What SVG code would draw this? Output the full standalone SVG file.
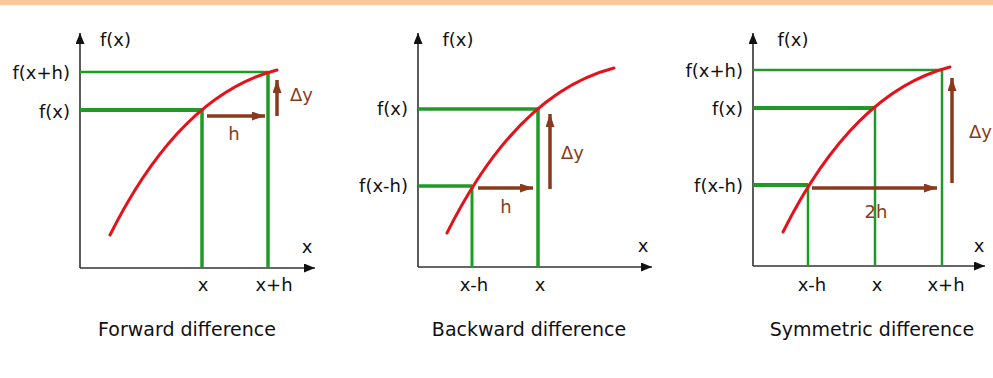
<svg xmlns="http://www.w3.org/2000/svg" width="993" height="378" viewBox="0 0 993 378">
<style>
text{font-family:"DejaVu Sans","Liberation Sans",sans-serif;font-size:18px;fill:#111}
.r{text-anchor:end}
.c{text-anchor:middle}
.cap{font-size:19px;text-anchor:middle}
.br{fill:#8a3a1c}
.ax{stroke:#333;stroke-width:1.6;fill:none}
.g{stroke:#1f9a26;fill:none}
.cv{stroke:#e5121c;stroke-width:3;fill:none;stroke-linecap:round}
.ar{stroke:#8a3a1c;stroke-width:3.5;fill:none}
</style>
<defs>
<marker id="axh" markerUnits="userSpaceOnUse" markerWidth="12" markerHeight="10" refX="11" refY="4.5" orient="auto"><path d="M0,0 L11,4.5 L0,9 z" fill="#111"/></marker>
<marker id="bh" markerUnits="userSpaceOnUse" markerWidth="14" markerHeight="10" refX="13" refY="4.5" orient="auto"><path d="M0,0 L13,4.5 L0,9 z" fill="#8a3a1c"/></marker>
<path id="curve" d="M110,235 Q180,95 277,70"/>
</defs>
<rect x="0" y="0" width="993" height="5" fill="#fac89b"/>

<g id="forward">
<line class="ax" x1="80" y1="268" x2="80" y2="33" marker-end="url(#axh)"/>
<line class="ax" x1="80" y1="268" x2="315" y2="268" marker-end="url(#axh)"/>
<line class="g" stroke-width="2.5" x1="80" y1="72" x2="268" y2="72"/>
<line class="g" stroke-width="4" x1="80" y1="110" x2="202" y2="110"/>
<line class="g" stroke-width="3.5" x1="202" y1="110" x2="202" y2="268"/>
<line class="g" stroke-width="3.5" x1="268" y1="72" x2="268" y2="268"/>
<use href="#curve" class="cv"/>
<line class="ar" x1="207" y1="116" x2="265" y2="116" marker-end="url(#bh)"/>
<line class="ar" x1="277" y1="116" x2="277" y2="80" marker-end="url(#bh)"/>
<text x="100" y="46">f(x)</text>
<text class="r" x="70" y="79">f(x+h)</text>
<text class="r" x="70" y="118">f(x)</text>
<text class="br c" x="234" y="140">h</text>
<text class="br" x="290" y="101">Δy</text>
<text class="c" x="307" y="253">x</text>
<text class="c" x="203" y="291">x</text>
<text class="c" x="274" y="291">x+h</text>
<text class="cap" x="187" y="336">Forward difference</text>
</g>

<g id="backward">
<line class="ax" x1="418" y1="267" x2="418" y2="33" marker-end="url(#axh)"/>
<line class="ax" x1="418" y1="267" x2="652" y2="267" marker-end="url(#axh)"/>
<line class="g" stroke-width="3.5" x1="418" y1="109" x2="538" y2="109"/>
<line class="g" stroke-width="3.5" x1="418" y1="186" x2="472" y2="186"/>
<line class="g" stroke-width="3" x1="472" y1="186" x2="472" y2="267"/>
<line class="g" stroke-width="3.5" x1="538" y1="109" x2="538" y2="267"/>
<use href="#curve" class="cv" transform="translate(337,-2)"/>
<line class="ar" x1="478" y1="188" x2="533" y2="188" marker-end="url(#bh)"/>
<line class="ar" x1="550" y1="189" x2="550" y2="114" marker-end="url(#bh)"/>
<text class="c" x="458" y="46">f(x)</text>
<text class="r" x="408" y="115">f(x)</text>
<text class="r" x="408" y="192">f(x-h)</text>
<text class="br c" x="506" y="213">h</text>
<text class="br" x="561" y="159">Δy</text>
<text class="c" x="643" y="252">x</text>
<text class="c" x="474" y="291">x-h</text>
<text class="c" x="540" y="291">x</text>
<text class="cap" x="529" y="336">Backward difference</text>
</g>

<g id="symmetric">
<line class="ax" x1="753" y1="266" x2="753" y2="33" marker-end="url(#axh)"/>
<line class="ax" x1="753" y1="266" x2="985" y2="266" marker-end="url(#axh)"/>
<line class="g" stroke-width="2.5" x1="753" y1="70" x2="942" y2="70"/>
<line class="g" stroke-width="4" x1="753" y1="108" x2="875" y2="108"/>
<line class="g" stroke-width="4" x1="753" y1="185" x2="808" y2="185"/>
<line class="g" stroke-width="2.5" x1="808" y1="185" x2="808" y2="266"/>
<line class="g" stroke-width="2.5" x1="875" y1="108" x2="875" y2="266"/>
<line class="g" stroke-width="2.5" x1="942" y1="70" x2="942" y2="266"/>
<use href="#curve" class="cv" transform="translate(673,-3)"/>
<line class="ar" x1="812" y1="188" x2="937" y2="188" marker-end="url(#bh)"/>
<line class="ar" x1="952" y1="183" x2="952" y2="78" marker-end="url(#bh)"/>
<text class="c" x="793" y="46">f(x)</text>
<text class="r" x="743" y="77">f(x+h)</text>
<text class="r" x="743" y="115">f(x)</text>
<text class="r" x="743" y="192">f(x-h)</text>
<text class="br c" x="876" y="218">2h</text>
<text class="br" x="969" y="138">Δy</text>
<text class="c" x="979" y="252">x</text>
<text class="c" x="812" y="291">x-h</text>
<text class="c" x="877" y="291">x</text>
<text class="c" x="946" y="291">x+h</text>
<text class="cap" x="872" y="336">Symmetric difference</text>
</g>
</svg>
